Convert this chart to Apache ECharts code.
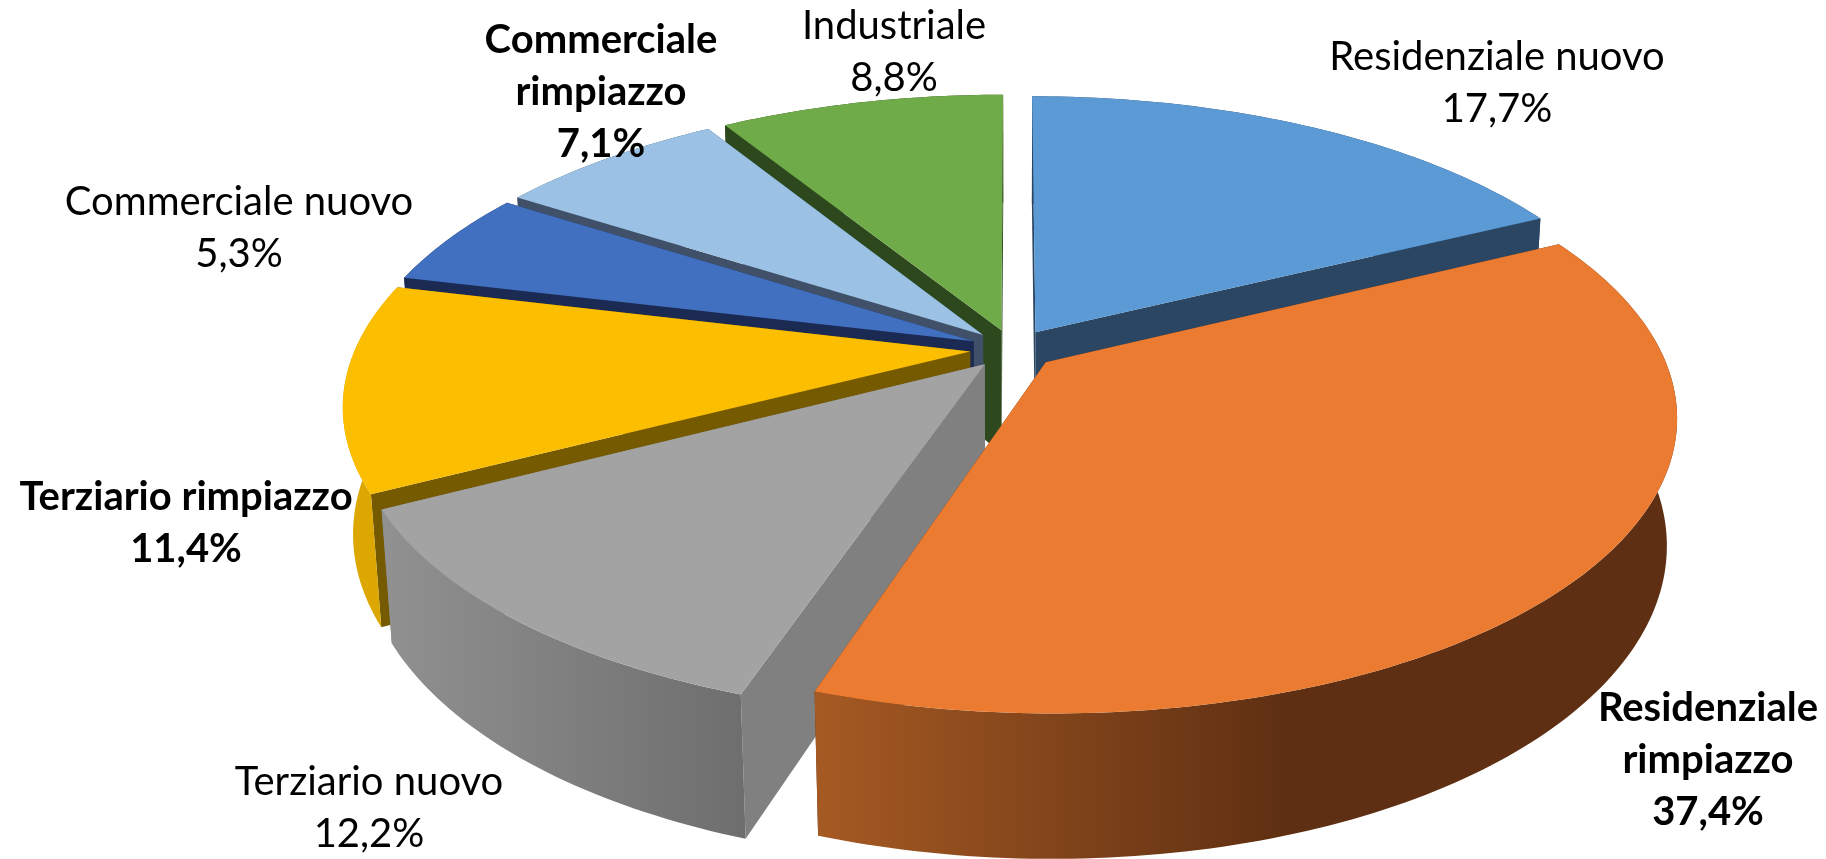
<!DOCTYPE html>
<html>
<head>
<meta charset="utf-8">
<style>
  html, body { margin: 0; padding: 0; background: #fff; }
  #chart { width: 1826px; height: 859px; }
</style>
<script src="https://cdn.jsdelivr.net/npm/echarts@6/dist/echarts.min.js"></script>
</head>
<body>
<div id="chart"></div>
<script>
// dati, in senso orario dalle ore 12
var categories = ['Residenziale nuovo', 'Residenziale\nrimpiazzo', 'Terziario nuovo', 'Terziario rimpiazzo', 'Commerciale nuovo', 'Commerciale\nrimpiazzo', 'Industriale'];
var values = [17.7, 37.4, 12.2, 11.4, 5.3, 7.1, 8.8];
var boldLabels = [false, true, false, true, false, true, false];

// stile
var topColors = ['#5B9AD5', '#EA7B31', '#A3A3A3', '#FBBE00', '#4270C0', '#9BC2E4', '#6FAB48'];
var faceColors = ['#2A4663', '#5E2F12', '#808080', '#755A00', '#1B2A52', '#3F5068', '#2E481E'];
var wallColors = [
  ['#2A4663', '#2A4663'], ['#A65A23', '#5E2F12'], ['#919191', '#6E6E6E'], ['#DCA700', '#DCA700'],
  ['#1B2A52', '#1B2A52'], ['#3F5068', '#3F5068'], ['#2E481E', '#2E481E']
];
var labelCenters = [[1497, 83], [1708, 760], [369, 808], [186, 523], [239, 228], [601, 92], [894, 52]];
var drawOrder = [0, 6, 5, 4, 3, 2, 1];  // dal fondo verso chi guarda

// vista 3D
var cx = 1013, cy = 349, R = 615, tilt = 0.461, persp = 0.178, depth = 126, depthPersp = 0.015, explode = 0.07;

var total = values.reduce(function (a, b) { return a + b; }, 0);

function project(u, v, z) {
  var w = 1 + persp * v + depthPersp * z;
  return [cx + R * u / w, cy - R * tilt * v / w + depth * z / w];
}

function sliceAngles(i) {
  var before = 0;
  for (var k = 0; k < i; k++) before += values[k];
  return [before / total * 2 * Math.PI, (before + values[i]) / total * 2 * Math.PI];
}

function renderSlice(params, api) {
  var i = api.value(0);
  var ang = sliceAngles(i);
  var mid = (ang[0] + ang[1]) / 2;
  var ou = explode * Math.sin(mid), ov = explode * Math.cos(mid);

  var arcTop = [], arcBottom = [];
  var steps = Math.ceil((ang[1] - ang[0]) / (Math.PI / 180));
  for (var s = 0; s <= steps; s++) {
    var a = ang[0] + (ang[1] - ang[0]) * s / steps;
    arcTop.push(project(ou + Math.sin(a), ov + Math.cos(a), 0));
    arcBottom.push(project(ou + Math.sin(a), ov + Math.cos(a), 1));
  }
  var apexTop = project(ou, ov, 0), apexBottom = project(ou, ov, 1);
  var last = arcTop.length - 1;

  var children = [
    // faccia di taglio iniziale e finale
    { type: 'polygon', shape: { points: [apexTop, arcTop[0], arcBottom[0], apexBottom] }, style: { fill: faceColors[i] } },
    { type: 'polygon', shape: { points: [apexTop, arcTop[last], arcBottom[last], apexBottom] }, style: { fill: faceColors[i] } },
    // bordo esterno
    {
      type: 'polygon',
      shape: { points: arcTop.concat(arcBottom.slice().reverse()) },
      style: { fill: new echarts.graphic.LinearGradient(0, 0, 1, 0, [
        { offset: 0, color: wallColors[i][0] },
        { offset: i === 1 ? 0.55 : 1, color: wallColors[i][1] },
        { offset: 1, color: wallColors[i][1] }
      ]) }
    },
    // faccia superiore
    { type: 'polygon', shape: { points: [apexTop].concat(arcTop) }, style: { fill: topColors[i] } },
    // etichetta
    {
      type: 'text',
      z2: 100,
      x: labelCenters[i][0],
      y: labelCenters[i][1],
      style: {
        text: categories[i] + '\n' + values[i].toFixed(1).replace('.', ',') + '%',
        fill: '#000',
        font: (boldLabels[i] ? 'bold ' : '') + '40px Lato, sans-serif',
        lineHeight: 52,
        align: 'center',
        verticalAlign: 'middle'
      }
    }
  ];
  return { type: 'group', children: children };
}

var chart = echarts.init(document.getElementById('chart'));
var option = {
  animation: false,
  series: [{
    type: 'custom',
    coordinateSystem: 'none',
    renderItem: renderSlice,
    data: drawOrder.map(function (i) { return [i, values[i]]; })
  }]
};
chart.setOption(option);
</script>
</body>
</html>
